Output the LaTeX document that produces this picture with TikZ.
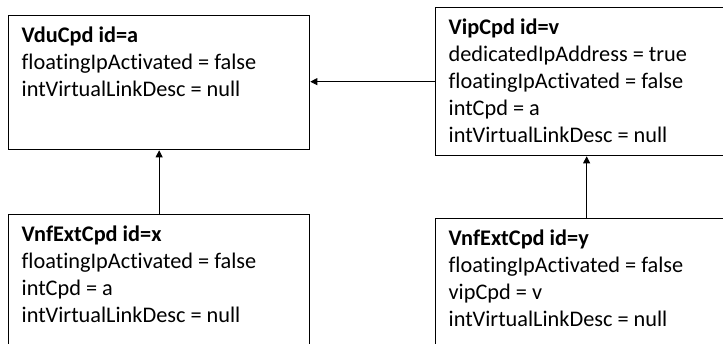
\documentclass[tikz,border=0pt]{standalone}
\usepackage{fontspec}
\setmainfont{Carlito}[Ligatures={TeX,NoCommon}]
\usetikzlibrary{arrows.meta}
\begin{document}
\begin{tikzpicture}[x=1pt,y=1pt,
	cpd/.style={draw, line width=1.3pt, anchor=north west, inner xsep=13pt, inner ysep=11pt,
		font=\fontsize{22.3}{27}\selectfont},
	link/.style={-{Triangle[length=7pt,width=7pt]}, line width=0.8pt}]
	\useasboundingbox (0,0) rectangle (723,-344);
	\clip (0,0) rectangle (723,-344);
	
	\node[cpd] (vdu) at (8,-15) {\parbox[t][112pt][t]{275pt}{\textbf{VduCpd id=a}\\
		floatingIpActivated = false\\
		intVirtualLinkDesc = null}};
	\node[cpd] (vip) at (435,-7) {\parbox[t][126pt][t]{276pt}{\textbf{VipCpd id=v}\\
		dedicatedIpAddress = true\\
		floatingIpActivated = false\\
		intCpd = a\\
		intVirtualLinkDesc = null}};
	
	\node[cpd] (extx) at (8,-214) {\parbox[t][118pt][t]{275pt}{\textbf{VnfExtCpd id=x}\\
		floatingIpActivated = false\\
		intCpd = a\\
		intVirtualLinkDesc = null}};
	\node[cpd] (exty) at (435,-218) {\parbox[t][118pt][t]{276pt}{\textbf{VnfExtCpd id=y}\\
		floatingIpActivated = false\\
		vipCpd = v\\
		intVirtualLinkDesc = null}};
	
	\draw[link] (vip.west) -- (vdu.east |- vip.west);
	\draw[link] (extx.north) -- (vdu.south);
	\draw[link] (exty.north) -- (vip.south);
\end{tikzpicture}
\end{document}
